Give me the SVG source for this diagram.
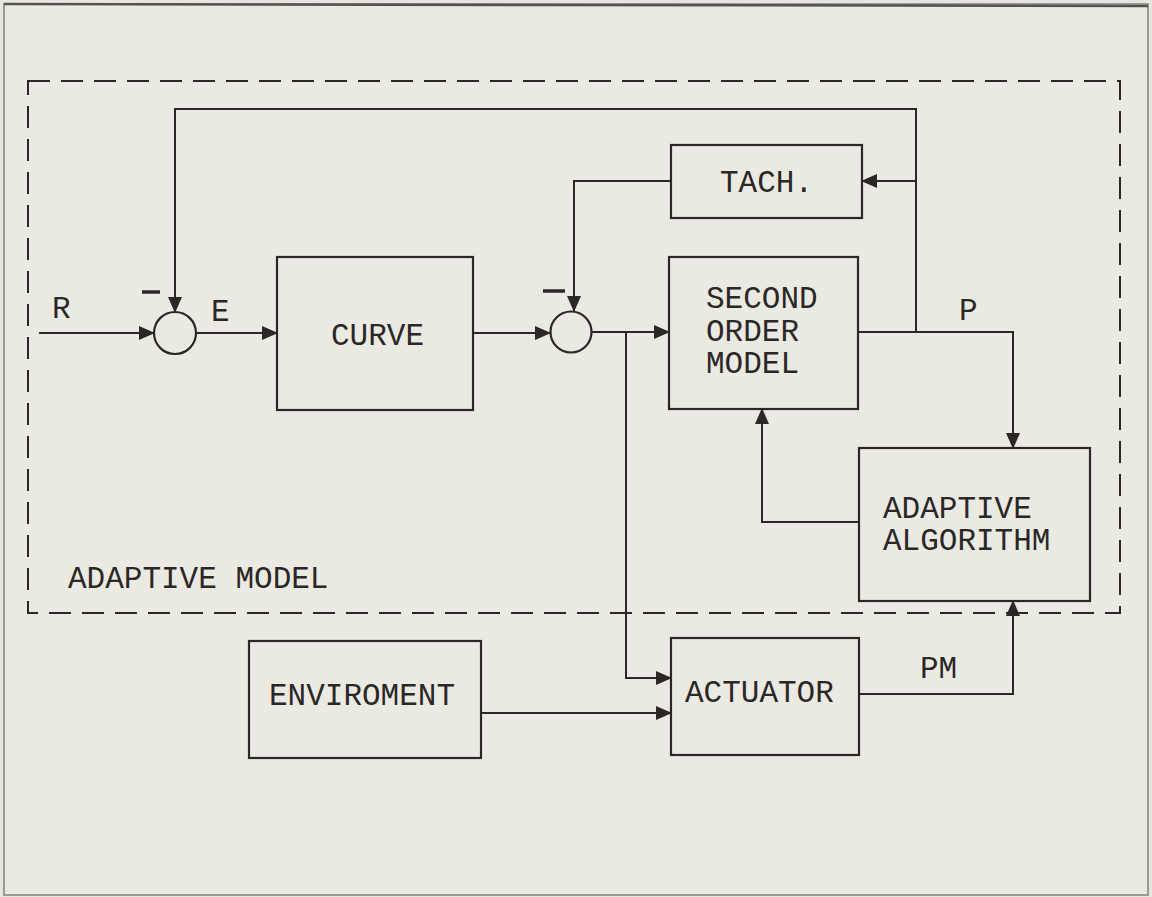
<svg xmlns="http://www.w3.org/2000/svg" width="1152" height="897" viewBox="0 0 1152 897">
<defs>
<style>
.bx{fill:none;stroke:#2b2727;stroke-width:2.2}
.ln{fill:none;stroke:#2b2727;stroke-width:2}
.dash{fill:none;stroke:#2b2727;stroke-width:2;stroke-dasharray:22,11}
.t{font-family:"Liberation Mono","Courier New",monospace;font-size:31px;fill:#2b2727}
.minus{stroke:#2b2727;stroke-width:3.5}
</style>
<marker id="ah" viewBox="0 0 16 14" markerWidth="16" markerHeight="14" refX="15" refY="7" orient="auto" markerUnits="userSpaceOnUse">
<path d="M0,0 L16,7 L0,14 z" fill="#2b2727"/>
</marker>
</defs>
<rect width="1152" height="897" fill="#e6e6de"/>
<rect x="4" y="4" width="1144" height="891" fill="#eaeae3" stroke="#9a9a94" stroke-width="2"/>
<line x1="4" y1="4" x2="1148" y2="6" stroke="#55524f" stroke-width="2.5"/>

<g id="adaptive-model-frame">
<rect class="dash" x="28" y="81" width="1092" height="532"/>
<text class="t" x="68" y="588">ADAPTIVE MODEL</text>
</g>

<g id="sum1">
<circle class="bx" cx="175" cy="333" r="21"/>
<line class="minus" x1="142" y1="292" x2="160" y2="292"/>
</g>
<g id="sum2">
<circle class="bx" cx="571" cy="332" r="20.5"/>
<line class="minus" x1="543" y1="291" x2="565" y2="291"/>
</g>

<g id="curve">
<rect class="bx" x="277" y="257" width="196" height="153"/>
<text class="t" x="331" y="345">CURVE</text>
</g>
<g id="tach">
<rect class="bx" x="671" y="145" width="191" height="73"/>
<text class="t" x="720" y="192">TACH.</text>
</g>
<g id="second-order-model">
<rect class="bx" x="669" y="257" width="189" height="152"/>
<text class="t" x="706" y="308">SECOND</text>
<text class="t" x="706" y="341">ORDER</text>
<text class="t" x="706" y="373">MODEL</text>
</g>
<g id="adaptive-algorithm">
<rect class="bx" x="859" y="448" width="231" height="153"/>
<text class="t" x="883" y="518">ADAPTIVE</text>
<text class="t" x="883" y="550">ALGORITHM</text>
</g>
<g id="enviroment">
<rect class="bx" x="249" y="641" width="232" height="117"/>
<text class="t" x="269" y="705">ENVIROMENT</text>
</g>
<g id="actuator">
<rect class="bx" x="671" y="638" width="188" height="117"/>
<text class="t" x="685" y="702">ACTUATOR</text>
</g>

<g id="connectors">
<line class="ln" x1="39" y1="333" x2="154" y2="333" marker-end="url(#ah)"/>
<line class="ln" x1="196" y1="333" x2="277" y2="333" marker-end="url(#ah)"/>
<line class="ln" x1="473" y1="333" x2="550" y2="333" marker-end="url(#ah)"/>
<line class="ln" x1="591" y1="332" x2="669" y2="332" marker-end="url(#ah)"/>
<polyline class="ln" points="626,332 626,678 671,678" marker-end="url(#ah)"/>
<line class="ln" x1="481" y1="713" x2="671" y2="713" marker-end="url(#ah)"/>
<polyline class="ln" points="859,694 1013,694 1013,601" marker-end="url(#ah)"/>
<polyline class="ln" points="858,332 1013,332 1013,448" marker-end="url(#ah)"/>
<polyline class="ln" points="916,332 916,109 175,109 175,312" marker-end="url(#ah)"/>
<line class="ln" x1="916" y1="181" x2="862" y2="181" marker-end="url(#ah)"/>
<polyline class="ln" points="671,181 574,181 574,311" marker-end="url(#ah)"/>
<polyline class="ln" points="859,522 762,522 762,409" marker-end="url(#ah)"/>
<text class="t" x="52" y="318">R</text>
<text class="t" x="211" y="321">E</text>
<text class="t" x="959" y="320">P</text>
<text class="t" x="920" y="678">PM</text>
</g>
</svg>
